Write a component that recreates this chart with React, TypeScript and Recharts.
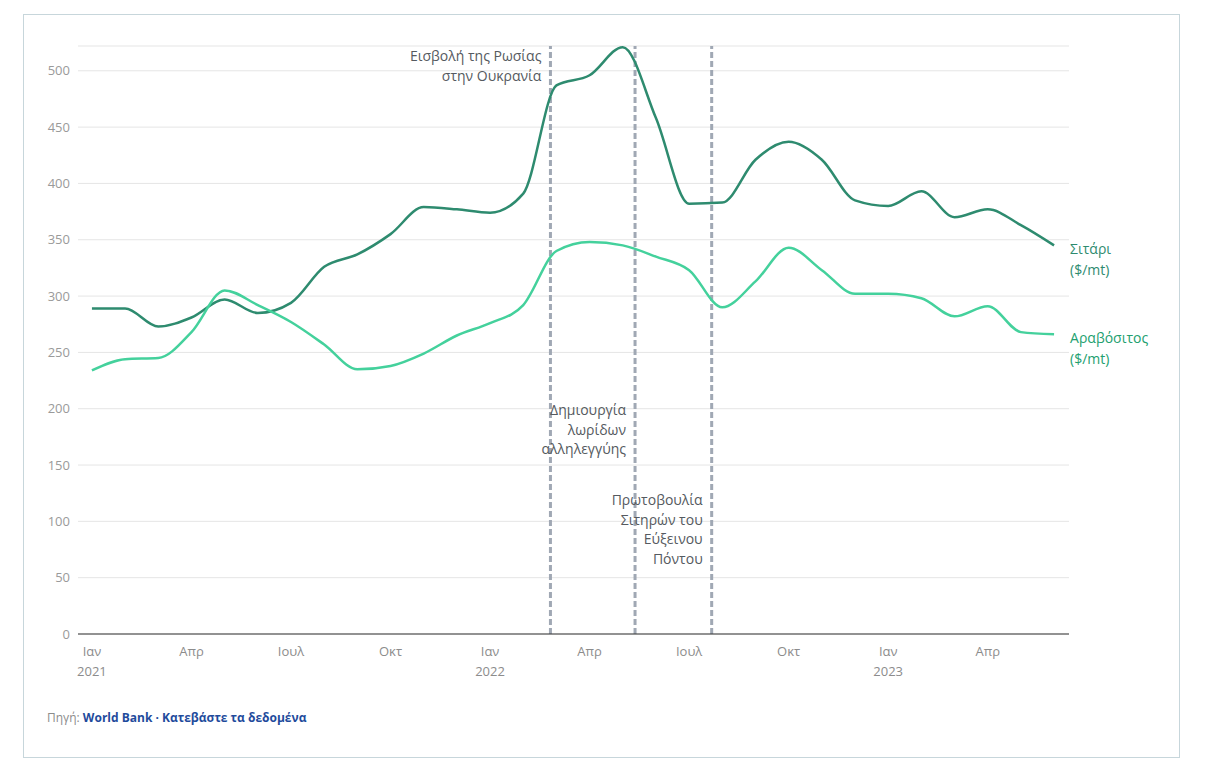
import { LineChart, Line, XAxis, YAxis, CartesianGrid, ReferenceLine } from 'recharts';

// monthly index: 0 = Jan 2021 ... 29 = Jun 2023
const months = Array.from({ length: 30 }, (_, i) => i);
const wheat = [289, 289, 273, 281, 297, 285, 294, 326, 337, 355, 379, 377, 374, 391, 487, 496, 521, 458, 382, 383, 421, 437, 421, 385, 380, 393, 370, 377, 363, 345];
const corn = [234, 244, 245, 268, 305, 292, 277, 257, 235, 238, 249, 265, 276, 292, 340, 348, 345, 335, 323, 290, 313, 343, 323, 302, 302, 298, 282, 291, 268, 266];

const xTicks = [0, 3, 6, 9, 12, 15, 18, 21, 24, 27];
const xTickMonth = ['Ιαν', 'Απρ', 'Ιουλ', 'Οκτ', 'Ιαν', 'Απρ', 'Ιουλ', 'Οκτ', 'Ιαν', 'Απρ'];
const xTickYear = ['2021', '', '', '', '2022', '', '', '', '2023', ''];
const yTicks = [0, 50, 100, 150, 200, 250, 300, 350, 400, 450, 500];

// events, as fractional month index
const events = [
  { x: 13.82, lines: ['Εισβολή της Ρωσίας', 'στην Ουκρανία'], top: 15 },
  { x: 16.37, lines: ['Δημιουργία', 'λωρίδων', 'αλληλεγγύης'], top: 369 },
  { x: 18.68, lines: ['Πρωτοβουλία', 'Σιτηρών του', 'Εύξεινου', 'Πόντου'], top: 459 },
];

const data = months.map((m, i) => ({ m, wheat: wheat[i], corn: corn[i] }));

const FONT = '"Open Sans", sans-serif';
const WHEAT = '#2e8b6f';
const CORN = '#44d19c';

const MonthTick = (props: any) => {
  const { x, y, payload } = props;
  const i = xTicks.indexOf(payload.value);
  return (
    <g>
      <text x={x} y={y + 14} textAnchor="middle" fill="#8c8c8c" fontSize={13} fontFamily={FONT}>
        {xTickMonth[i]}
      </text>
      {xTickYear[i] && (
        <text x={x} y={y + 34} textAnchor="middle" fill="#8c8c8c" fontSize={13} fontFamily={FONT}>
          {xTickYear[i]}
        </text>
      )}
    </g>
  );
};

const eventLabel = (ev: (typeof events)[number]) => (p: any) => {
  const vb = p.viewBox;
  return (
    <g>
      {ev.lines.map((t, k) => (
        <text key={k} x={vb.x - 9} y={vb.y + ev.top + k * 19.5} textAnchor="end" fill="#555a60" fontSize={14} fontFamily={FONT}>
          {t}
        </text>
      ))}
    </g>
  );
};

const endLabel = (name: string, color: string) => (p: any) => {
  if (p.index !== data.length - 1) return null;
  return (
    <g>
      <text x={p.x + 16} y={p.y + 9} fill={color} fontSize={14} fontFamily={FONT}>{name}</text>
      <text x={p.x + 16} y={p.y + 30} fill={color} fontSize={14} fontFamily={FONT}>($/mt)</text>
    </g>
  );
};

export default function App() {
  return (
    <div
      style={{
        position: 'relative',
        marginLeft: 15,
        marginTop: 6,
        width: 1155,
        height: 742,
        border: '1px solid #c7d6db',
        fontFamily: FONT,
      }}
    >
      <LineChart width={1155} height={669} data={data} margin={{ top: 31, right: 110, bottom: 0, left: 10 }}>
        <CartesianGrid vertical={false} stroke="#e5e5e5" />
        <XAxis
          dataKey="m"
          type="number"
          domain={[-0.42, 29.45]}
          ticks={xTicks}
          tick={<MonthTick />}
          tickLine={false}
          axisLine={{ stroke: '#333333' }}
          height={50}
          interval={0}
        />
        <YAxis
          domain={[0, 522]}
          ticks={yTicks}
          tickLine={false}
          axisLine={false}
          width={44}
          tick={{ fill: '#9a9a9a', fontSize: 13, fontFamily: FONT }}
        />
        {events.map((ev) => (
          <ReferenceLine
            key={ev.x}
            x={ev.x}
            stroke="#a0a8b4"
            strokeWidth={3}
            strokeDasharray="6 3"
            label={eventLabel(ev)}
          />
        ))}
        <Line
          type="monotone"
          dataKey="wheat"
          stroke={WHEAT}
          strokeWidth={2.5}
          dot={false}
          isAnimationActive={false}
          label={endLabel('Σιτάρι', WHEAT)}
        />
        <Line
          type="monotone"
          dataKey="corn"
          stroke={CORN}
          strokeWidth={2.5}
          dot={false}
          isAnimationActive={false}
          label={endLabel('Αραβόσιτος', '#22a06f')}
        />
      </LineChart>
      <div style={{ position: 'absolute', left: 23, top: 694, fontSize: 12 }}>
        <span style={{ color: '#8c8c8c' }}>Πηγή: </span>
        <span style={{ color: '#1f4b9c', fontWeight: 700 }}>World Bank · Κατεβάστε τα δεδομένα</span>
      </div>
    </div>
  );
}
